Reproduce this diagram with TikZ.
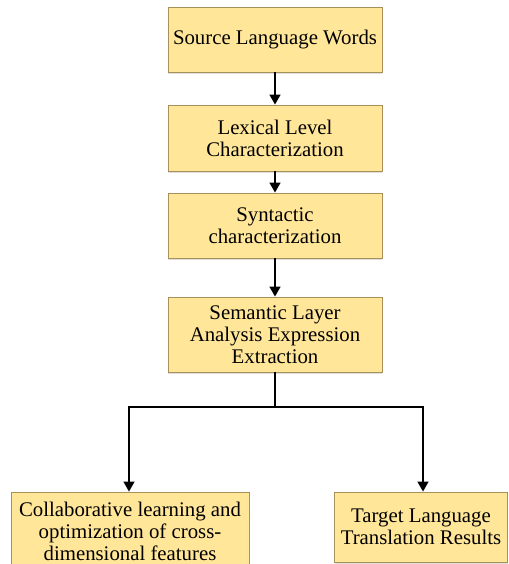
\documentclass[tikz,border=0pt]{standalone}
\usepackage{fontspec}
\setmainfont{Liberation Serif}
\usetikzlibrary{arrows.meta,shadows}
\definecolor{boxfill}{HTML}{FFE699}
\definecolor{boxline}{HTML}{A89058}
\tikzset{
  stepbox/.style={draw=boxline, line width=0.9pt, fill=boxfill,
    align=center, inner sep=0pt, font=\fontsize{20.8}{22}\selectfont,
    drop shadow={shadow xshift=0pt, shadow yshift=-2pt, opacity=0.25, fill=gray}},
  flow/.style={line width=1.5pt, -{Triangle[width=11pt,length=10pt]}},
}
\begin{document}
\begin{tikzpicture}[x=1pt,y=-1pt]
\useasboundingbox (0,0) rectangle (508,564);
% main chain
\node[stepbox, minimum width=214pt, minimum height=65pt] (src) at (275,39.5) {Source Language Words};
\node[stepbox, minimum width=214pt, minimum height=66pt] (lex) at (275,138) {Lexical Level\\Characterization};
\node[stepbox, minimum width=214pt, minimum height=65pt] (syn) at (275,225.5) {Syntactic\\characterization};
\node[stepbox, minimum width=214pt, minimum height=75pt] (sem) at (275,334.5) {Semantic Layer\\Analysis Expression\\Extraction};
% outputs
\node[stepbox, minimum width=238pt, minimum height=78pt] (col) at (130,531) {Collaborative learning and\\optimization of cross-\\dimensional features};
\node[stepbox, minimum width=173pt, minimum height=70pt] (tgt) at (421,527) {Target Language\\Translation Results};
% connectors
\draw[flow] (src) -- (lex);
\draw[flow] (lex) -- (syn);
\draw[flow] (syn) -- (sem);
\coordinate (split) at (275,407);
\draw[line width=1.5pt] (sem.south) -- (split);
\draw[flow] (split) -| (col.north -| 129,0);
\draw[flow] (split) -| (tgt.north -| 423,0);
\end{tikzpicture}
\end{document}
